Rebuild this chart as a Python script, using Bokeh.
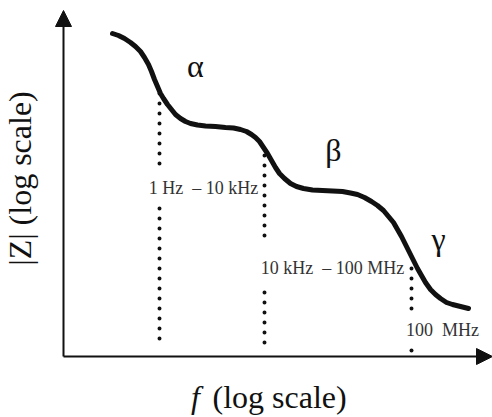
from bokeh.plotting import figure
from bokeh.models import Range1d, Label, Arrow, NormalHead, ColumnDataSource
from bokeh.embed import file_html
from bokeh.resources import INLINE

# ---- data (schematic units: log f along x, log |Z| along y) ----
log_f = [49, 55, 61, 67, 72, 77, 81, 85, 88, 91, 94, 97, 100, 104, 108, 112, 117, 122,
         127, 134, 142, 152, 162, 170, 177, 183, 188, 192, 196, 200, 204, 208, 212, 216,
         221, 227, 233, 240, 249, 259, 269, 279, 287, 294, 301, 308, 314, 320, 325, 330,
         334, 338, 342, 346, 350, 354, 358, 362, 367, 372, 377, 383, 389, 397, 405]
log_z = [323, 321, 318, 314, 310, 305, 299, 292, 285, 277, 270, 263, 258, 252, 247, 242,
         238, 235, 233, 231.5, 230.5, 230, 229, 228.5, 227, 225, 222, 219, 215, 209, 203,
         196, 189, 183, 178, 173, 170, 168, 166.5, 166, 165.5, 165, 163.5, 162, 159, 155,
         151, 146, 140, 134, 127, 120, 112, 104, 96, 88, 81, 74, 67, 62, 58, 54, 52, 50, 48]

dispersions = ["\u03b1", "\u03b2", "\u03b3"]
freq_ranges = ["1 Hz\u00a0\u00a0\u2013 10 kHz", "10 kHz\u00a0\u00a0\u2013 100 MHz", "100\u00a0\u00a0MHz"]
x_title_var = "f"
x_title_rest = "(log scale)"
y_title = "|Z| (log scale)"

SERIF = "Liberation Serif"
INK = "#111111"

p = figure(width=492, height=417, output_backend="svg", toolbar_location=None,
           x_range=Range1d(-63, 429), y_range=Range1d(-61, 356),
           x_axis_location=None, y_axis_location=None,
           min_border=0, min_border_left=0, min_border_right=0,
           min_border_top=0, min_border_bottom=0)
p.outline_line_color = None
p.grid.visible = False
p.background_fill_color = "white"
p.border_fill_color = "white"

# axes with arrow heads
p.add_layout(Arrow(x_start=0, y_start=0, x_end=429, y_end=0, line_width=2, line_color=INK,
                   end=NormalHead(size=16, fill_color=INK, line_color=INK)))
p.add_layout(Arrow(x_start=0, y_start=0, x_end=0, y_end=346, line_width=2, line_color=INK,
                   end=NormalHead(size=16, fill_color=INK, line_color=INK)))

# dotted frequency boundaries
seg = ColumnDataSource(dict(
    x0=[96, 96, 201, 201, 348, 348],
    y0=[263, 148, 201, 64, 88, 6],
    x1=[96, 96, 201, 201, 348, 348],
    y1=[189, 11, 116, 11, 46, 5],
))
p.segment(x0="x0", y0="y0", x1="x1", y1="y1", source=seg, line_color=INK,
          line_width=4, line_dash="0 10", line_cap="round")

# impedance curve
p.line(log_f, log_z, line_width=5, line_color=INK, line_cap="round", line_join="round")

# dispersion labels
for (x, y), t in zip([(132, 291), (270, 207), (375, 118)], dispersions):
    p.add_layout(Label(x=x, y=y, text=t, text_font=SERIF, text_font_size="32px",
                       text_color=INK, text_align="center", text_baseline="alphabetic"))

# frequency range labels
for (x, y), t in zip([(140, 169), (269, 89), (379, 27)], freq_ranges):
    p.add_layout(Label(x=x, y=y, text=t, text_font=SERIF, text_font_size="18px",
                       text_color="#333333", text_align="center", text_baseline="alphabetic"))

# axis titles
p.add_layout(Label(x=132, y=-40, text=x_title_var, text_font=SERIF, text_font_size="32px",
                   text_font_style="italic", text_color=INK, text_align="center",
                   text_baseline="alphabetic"))
p.add_layout(Label(x=149, y=-40, text=x_title_rest, text_font=SERIF, text_font_size="32px",
                   text_color=INK, text_align="left", text_baseline="alphabetic"))
p.add_layout(Label(x=-44, y=178, text=y_title, text_font=SERIF, text_font_size="32px",
                   text_color=INK, text_align="center", text_baseline="alphabetic",
                   angle=1.5707963267948966))

open("out.html", "w").write(file_html(p, INLINE))
